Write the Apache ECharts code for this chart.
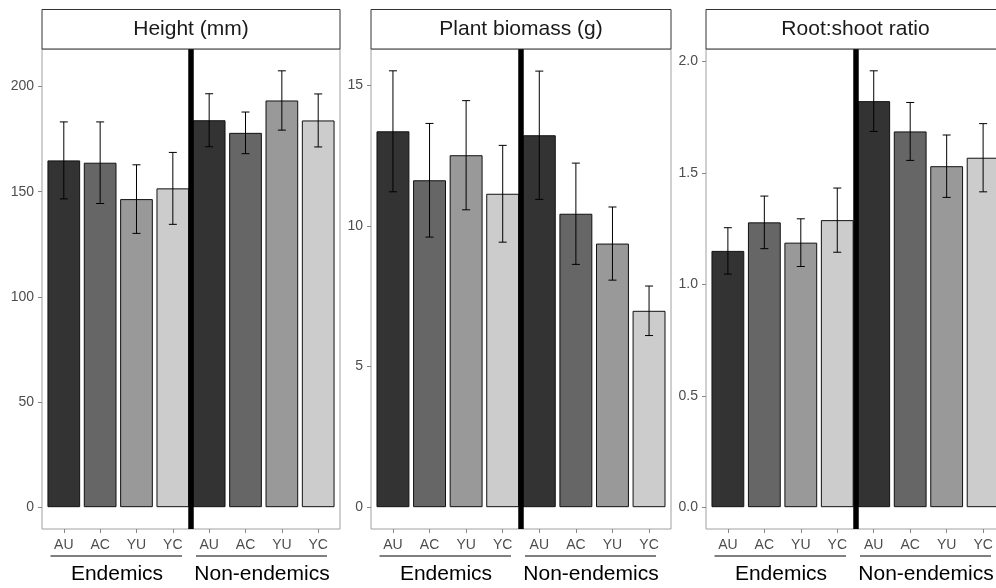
<!DOCTYPE html>
<html>
<head>
<meta charset="utf-8">
<script src="https://cdn.jsdelivr.net/npm/echarts@6/dist/echarts.min.js"></script>
<style>
html,body{margin:0;padding:0;background:#fff;}
#chart{width:996px;height:588px;}
</style>
</head>
<body>
<div id="chart"></div>
<script>
// ---- data ----
const categories = ['AU', 'AC', 'YU', 'YC', 'AU', 'AC', 'YU', 'YC'];
const groups = ['Endemics', 'Non-endemics'];
const panelTitles = ['Height (mm)', 'Plant biomass (g)', 'Root:shoot ratio'];

const heightMean = [164.9, 163.8, 146.5, 151.6, 184.0, 178.0, 193.4, 183.9];
const heightErr  = [18.3, 19.4, 16.3, 17.1, 12.6, 9.9, 14.1, 12.6];

const biomassMean = [13.36, 11.62, 12.51, 11.14, 13.22, 10.43, 9.37, 6.98];
const biomassErr  = [2.15, 2.02, 1.94, 1.72, 2.28, 1.80, 1.30, 0.88];

const ratioMean = [1.150, 1.278, 1.187, 1.288, 1.822, 1.686, 1.530, 1.568];
const ratioErr  = [0.104, 0.118, 0.107, 0.144, 0.136, 0.130, 0.140, 0.153];

const heightTicks = [0, 50, 100, 150, 200];
const biomassTicks = [0, 5, 10, 15];
const ratioTicks = [0, 0.5, 1.0, 1.5, 2.0];

// ---- layout / style ----
const fills = ['#333333', '#666666', '#999999', '#cccccc'];
const panels = [
  { left: 42,  width: 298, mean: heightMean,  err: heightErr,  ticks: heightTicks,  fmt: v => String(v) },
  { left: 371, width: 300, mean: biomassMean, err: biomassErr, ticks: biomassTicks, fmt: v => String(v) },
  { left: 706, width: 299, mean: ratioMean,   err: ratioErr,   ticks: ratioTicks,   fmt: v => Number(v).toFixed(1) }
];
const gridTop = 49, gridHeight = 480;
const FONT = 'Liberation Sans, Arial, sans-serif';
const xPositions = categories.map((c, i) => i + 1);

const grid = [], xAxis = [], yAxis = [], series = [], graphic = [];

panels.forEach((p, k) => {
  const tops = p.mean.map((m, i) => m + p.err[i]);
  const maxTop = Math.max.apply(null, tops);
  const yMin = -0.05 * maxTop, yMax = 1.05 * maxTop;

  grid.push({ left: p.left, top: gridTop, width: p.width, height: gridHeight,
              outerBoundsMode: 'none', containLabel: false,
              show: true, borderColor: '#a0a0a0', borderWidth: 1, backgroundColor: 'transparent' });

  xAxis.push({
    type: 'value', gridIndex: k, min: 0.4, max: 8.6, position: 'bottom',
    axisLine: { show: false, onZero: false },
    splitLine: { show: false },
    axisTick: { show: true, customValues: xPositions, length: 4, lineStyle: { color: '#888' } },
    axisLabel: { show: true, customValues: xPositions, margin: 9, fontSize: 14, color: '#4d4d4d',
                 fontFamily: FONT, formatter: v => categories[Math.round(v) - 1] }
  });

  yAxis.push({
    type: 'value', gridIndex: k, min: yMin, max: yMax, position: 'left',
    axisLine: { show: false, onZero: false },
    splitLine: { show: false },
    axisTick: { show: true, customValues: p.ticks, length: 4, lineStyle: { color: '#888' } },
    axisLabel: { show: true, customValues: p.ticks, margin: 8, fontSize: 14, color: '#4d4d4d',
                 fontFamily: FONT, formatter: p.fmt }
  });

  series.push({
    type: 'bar', xAxisIndex: k, yAxisIndex: k,
    barWidth: 0.9 * p.width / 8.2,
    data: p.mean.map((m, i) => ({ value: [xPositions[i], m], itemStyle: { color: fills[i % 4] } })),
    itemStyle: { borderColor: '#111', borderWidth: 1 },
    silent: true, z: 2
  });

  series.push({
    type: 'custom', xAxisIndex: k, yAxisIndex: k, z: 3, silent: true,
    data: p.mean.map((m, i) => [xPositions[i], m - p.err[i], m + p.err[i]]),
    encode: { x: 0, y: [1, 2] },
    renderItem: function (params, api) {
      const x = api.value(0), lo = api.value(1), hi = api.value(2);
      const a = api.coord([x, lo]), b = api.coord([x, hi]);
      const hw = api.size([0.11, 0])[0];
      const st = { stroke: '#000', lineWidth: 1 };
      return { type: 'group', children: [
        { type: 'line', shape: { x1: b[0], y1: b[1], x2: a[0], y2: a[1] }, style: st },
        { type: 'line', shape: { x1: b[0] - hw, y1: b[1], x2: b[0] + hw, y2: b[1] }, style: st },
        { type: 'line', shape: { x1: a[0] - hw, y1: a[1], x2: a[0] + hw, y2: a[1] }, style: st }
      ]};
    },
    markLine: {
      silent: true, symbol: ['none', 'none'], label: { show: false },
      lineStyle: { color: '#000', width: 5.5, type: 'solid' },
      data: [{ xAxis: 4.5 }]
    }
  });

  // strip
  graphic.push({ type: 'rect', shape: { x: p.left, y: 9.5, width: p.width, height: 39.5 },
                 style: { fill: '#fff', stroke: '#333', lineWidth: 1 }, z: 10 });
  graphic.push({ type: 'text', x: p.left + p.width / 2, y: 29.5, z: 11,
                 style: { text: panelTitles[k], fill: '#1a1a1a', font: '21px ' + FONT,
                          align: 'center', verticalAlign: 'middle' } });
  // group underlines & labels
  graphic.push({ type: 'line', shape: { x1: p.left + 8.5, y1: 556, x2: p.left + 140, y2: 556 },
                 style: { stroke: '#000', lineWidth: 1 }, z: 10 });
  graphic.push({ type: 'line', shape: { x1: p.left + 154, y1: 556, x2: p.left + 285, y2: 556 },
                 style: { stroke: '#000', lineWidth: 1 }, z: 10 });
  graphic.push({ type: 'text', x: p.left + 75, y: 574, z: 11,
                 style: { text: groups[0], fill: '#000', font: '21px ' + FONT, align: 'center', verticalAlign: 'middle' } });
  graphic.push({ type: 'text', x: p.left + 220, y: 574, z: 11,
                 style: { text: groups[1], fill: '#000', font: '21px ' + FONT, align: 'center', verticalAlign: 'middle' } });
});

const chart = echarts.init(document.getElementById('chart'), null, { renderer: 'canvas' });
chart.setOption({
  animation: false,
  backgroundColor: '#fff',
  grid, xAxis, yAxis, series, graphic
});
</script>
</body>
</html>
